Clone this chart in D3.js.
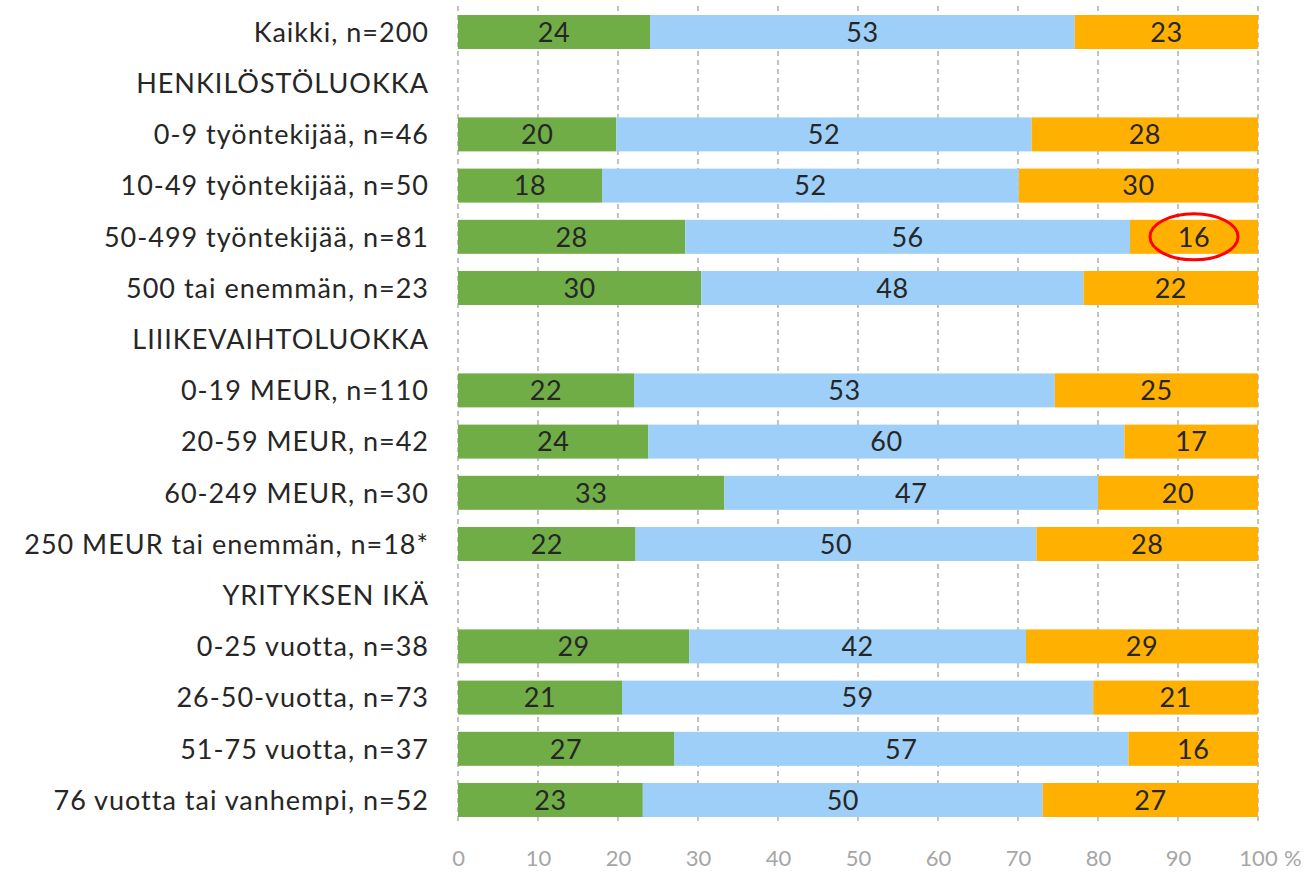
<!DOCTYPE html>
<html>
<head>
<meta charset="utf-8">
<script src="https://cdn.jsdelivr.net/npm/d3@7"></script>
<style>
  html, body { margin: 0; padding: 0; background: #ffffff; }
  svg { display: block; }
</style>
</head>
<body>
<svg id="chart" width="1306" height="872"></svg>
<script>
const categories = [
  "Kaikki, n=200",
  "HENKILÖSTÖLUOKKA",
  "0-9 työntekijää, n=46",
  "10-49 työntekijää, n=50",
  "50-499 työntekijää, n=81",
  "500 tai enemmän, n=23",
  "LIIIKEVAIHTOLUOKKA",
  "0-19 MEUR, n=110",
  "20-59 MEUR, n=42",
  "60-249 MEUR, n=30",
  "250 MEUR tai enemmän, n=18*",
  "YRITYKSEN IKÄ",
  "0-25 vuotta, n=38",
  "26-50-vuotta, n=73",
  "51-75 vuotta, n=37",
  "76 vuotta tai vanhempi, n=52"
];
const greenValues  = [24.0, null, 19.8, 18.0, 28.4, 30.4, null, 22.0, 23.8, 33.3, 22.2, null, 28.9, 20.5, 27.0, 23.1];
const blueValues   = [53.1, null, 51.9, 52.1, 55.6, 47.8, null, 52.6, 59.5, 46.7, 50.1, null, 42.1, 58.9, 56.8, 50.0];
const orangeValues = [22.9, null, 28.3, 29.9, 16.0, 21.8, null, 25.4, 16.7, 20.0, 27.7, null, 29.0, 20.6, 16.2, 26.9];
const xTicks = [0, 10, 20, 30, 40, 50, 60, 70, 80, 90, 100];
const highlightRow = "50-499 työntekijää, n=81";
const highlightSeries = 2;

const seriesList = [greenValues, blueValues, orangeValues];
const colors = ["#70ad47", "#9dcff9", "#ffb000"];
const font = "Lato, 'Open Sans', sans-serif";

const svg = d3.select("#chart");
const x = d3.scaleLinear().domain([0, 100]).range([458, 1258]);
const y = d3.scaleBand().domain(categories).range([6.4, 825.6]).paddingInner(0.336).paddingOuter(0.168);

// gridlines
svg.append("g").selectAll("line").data(xTicks).join("line")
  .attr("x1", d => x(d)).attr("x2", d => x(d))
  .attr("y1", 6).attr("y2", 823)
  .attr("stroke", "#b4b4b4").attr("stroke-width", 1.6)
  .attr("stroke-dasharray", "5,4");

// stacked segments
const segs = [];
categories.forEach((c, i) => {
  let acc = 0;
  seriesList.forEach((s, k) => {
    const v = s[i];
    if (v == null) return;
    segs.push({cat: c, k, x0: acc, x1: acc + v, v});
    acc += v;
  });
});

svg.append("g").selectAll("rect").data(segs).join("rect")
  .attr("x", d => x(d.x0))
  .attr("width", d => x(d.x1) - x(d.x0))
  .attr("y", d => y(d.cat))
  .attr("height", y.bandwidth())
  .attr("fill", d => colors[d.k]);

svg.append("g").selectAll("text").data(segs).join("text")
  .attr("x", d => (x(d.x0) + x(d.x1)) / 2)
  .attr("y", d => y(d.cat) + y.bandwidth() / 2)
  .attr("dy", "0.36em")
  .attr("text-anchor", "middle")
  .attr("font-family", font)
  .attr("font-size", 27)
  .attr("letter-spacing", 0.5)
  .attr("fill", "#262626")
  .text(d => Math.round(d.v));

// highlight ellipse
const hs = segs.find(d => d.cat === highlightRow && d.k === highlightSeries);
svg.append("ellipse")
  .attr("cx", (x(hs.x0) + x(hs.x1)) / 2)
  .attr("cy", y(hs.cat) + y.bandwidth() / 2)
  .attr("rx", 44).attr("ry", 23)
  .attr("fill", "none").attr("stroke", "#ff0000").attr("stroke-width", 3);

// category labels
svg.append("g").selectAll("text").data(categories).join("text")
  .attr("x", 429)
  .attr("y", d => y(d) + y.bandwidth() / 2)
  .attr("dy", "0.36em")
  .attr("text-anchor", "end")
  .attr("font-family", font)
  .attr("font-size", 27)
  .attr("letter-spacing", 1.0)
  .attr("fill", "#262626")
  .text(d => d);

// x axis labels
const axis = d3.axisBottom(x).tickValues(xTicks).tickSize(0).tickPadding(0);
const ag = svg.append("g").attr("transform", "translate(0,846)").call(axis);
ag.select(".domain").remove();
ag.selectAll("text")
  .attr("font-family", font)
  .attr("font-size", 22)
  .attr("fill", "#a6a6a6")
  .attr("dy", "0.9em");
svg.append("text")
  .attr("x", x(100) + 26)
  .attr("y", 846)
  .attr("dy", "0.9em")
  .attr("font-family", font)
  .attr("font-size", 22)
  .attr("fill", "#a6a6a6")
  .text("%");
</script>
</body>
</html>
